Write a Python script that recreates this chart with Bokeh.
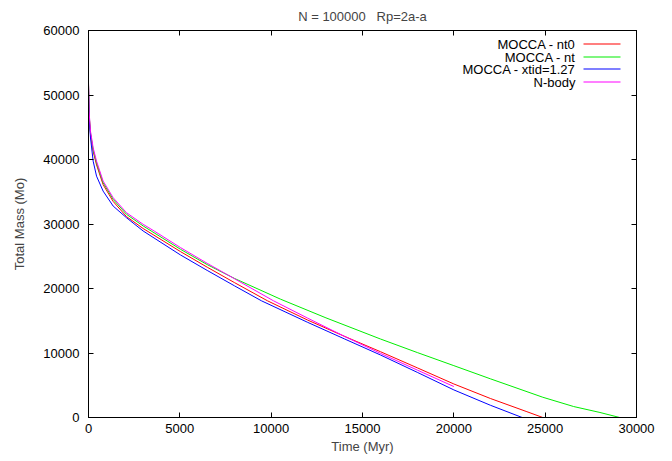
from bokeh.plotting import figure
from bokeh.models import (Range1d, LinearAxis, SingleIntervalTicker, BasicTickFormatter,
                          Label, BoxAnnotation)
from bokeh.embed import file_html
from bokeh.resources import INLINE

# ---------------- data ----------------
t_nt0 = [0, 30, 110, 255, 440, 800, 1350, 2080, 2990, 5036, 6500, 8000, 9800, 12000,
         14000, 15985, 18000, 20000, 22000, 24000, 24870]
m_nt0 = [51700, 47000, 43900, 41250, 39150, 36100, 33500, 31150, 29300, 25720, 23300,
         20900, 18090, 15100, 12600, 10200, 7700, 5200, 2950, 900, 0]

t_nt = [0, 30, 110, 255, 440, 800, 1350, 2080, 2990, 5036, 6500, 8000, 10510, 13000,
        15985, 18000, 20000, 22000, 24870, 26560, 28000, 29080]
m_nt = [51800, 47200, 44100, 41500, 39450, 36400, 33820, 31500, 29700, 26080, 23700,
        21550, 18350, 15450, 12170, 10070, 8040, 6000, 3140, 1700, 780, 0]

t_xtid = [0, 30, 110, 255, 440, 800, 1350, 2080, 2990, 5036, 6500, 8000, 9470, 12000,
          14000, 15985, 18000, 20000, 22000, 23740]
m_xtid = [51500, 46500, 43350, 39740, 37420, 35100, 32780, 30970, 28920, 25200, 22800,
          20400, 18090, 14750, 12200, 9690, 7000, 4280, 1900, 0]

t_nbody = [0, 30, 110, 255, 440, 800, 1350, 2080, 2990, 3630, 5036, 6500, 8000, 10130,
           12000, 14000, 15985, 18000, 20000]
m_nbody = [52000, 47500, 44380, 41800, 39740, 36650, 34070, 31750, 29950, 28850, 26340,
           23900, 21500, 18090, 15400, 12600, 9940, 7350, 4800]

names = ["MOCCA - nt0", "MOCCA - nt", "MOCCA - xtid=1.27", "N-body"]
colors = ["#ff0000", "#00ee00", "#0000ff", "#ff00ff"]
times = [t_nt0, t_nt, t_xtid, t_nbody]
masses = [m_nt0, m_nt, m_xtid, m_nbody]

title_text = "N = 100000 \u00a0 Rp=2a-a"
x_label = "Time (Myr)"
y_label = "Total Mass (Mo)"

FONT = "Liberation Sans"
FS = "13px"

p = figure(width=670, height=459, output_backend="svg", toolbar_location=None,
           x_range=Range1d(0, 30000), y_range=Range1d(0, 60000),
           min_border_left=88, min_border_right=34, min_border_top=29,
           min_border_bottom=42, title=title_text)
p.background_fill_color = "white"
p.border_fill_color = "white"
p.outline_line_color = "black"
p.outline_line_width = 1
p.grid.visible = False

p.title.text_font = FONT
p.title.text_font_size = FS
p.title.text_font_style = "normal"
p.title.align = "center"
p.title.standoff = 13

fmt = BasicTickFormatter(use_scientific=False)

def style(ax, labels=True):
    ax.major_tick_in = 5
    ax.major_tick_out = 0
    ax.minor_tick_in = 0
    ax.minor_tick_out = 0
    ax.axis_line_color = "black"
    ax.major_tick_line_color = "black"
    ax.major_label_text_font = FONT
    ax.major_label_text_font_size = FS
    ax.major_label_text_color = "black"
    ax.axis_label_text_font = FONT
    ax.axis_label_text_font_size = FS
    ax.axis_label_text_font_style = "normal"
    ax.formatter = fmt
    if not labels:
        ax.major_label_text_color = None
        ax.major_label_text_font_size = "1px"
        ax.major_label_standoff = 0

xa = p.xaxis[0]
xa.ticker = SingleIntervalTicker(interval=5000)
style(xa)
xa.axis_label = x_label
xa.major_label_standoff = 6
xa.axis_label_standoff = 3

ya = p.yaxis[0]
ya.ticker = SingleIntervalTicker(interval=10000)
style(ya)
ya.axis_label = y_label
ya.major_label_standoff = 9
ya.axis_label_standoff = 13

top = LinearAxis(ticker=SingleIntervalTicker(interval=5000))
style(top, labels=False)
p.add_layout(top, "above")
right = LinearAxis(ticker=SingleIntervalTicker(interval=10000))
style(right, labels=False)
p.add_layout(right, "right")

for t, m, c in zip(times, masses, colors):
    p.line(t, m, line_color=c, line_width=1)

# legend (text right-aligned, sample line on the right), screen units relative to frame
row_y = [373.5, 360.5, 348.5, 335.5]
for name, c, yy in zip(names, colors, row_y):
    p.add_layout(Label(x=487, y=yy, x_units="screen", y_units="screen", text=name,
                       text_font=FONT, text_font_size=FS, text_align="right",
                       text_baseline="middle", text_color="black"))
    p.add_layout(BoxAnnotation(left=495, right=532, bottom=yy - 0.5, top=yy + 0.5,
                               left_units="screen", right_units="screen",
                               top_units="screen", bottom_units="screen",
                               fill_color=c, fill_alpha=1, line_color=None))

open("out.html", "w").write(file_html(p, INLINE))
